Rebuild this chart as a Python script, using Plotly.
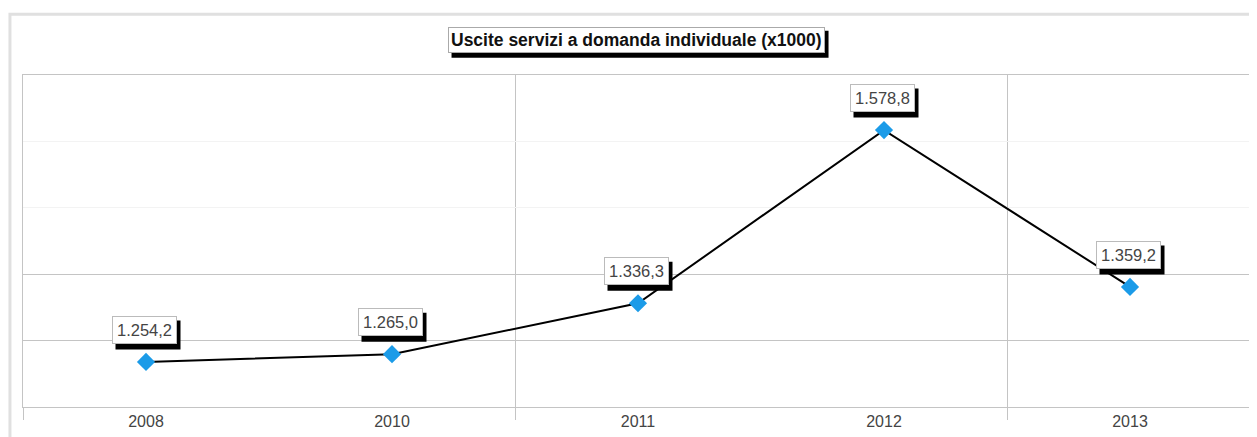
import plotly.graph_objects as go

years = ["2008", "2010", "2011", "2012", "2013"]
values = [1254.2, 1265.0, 1336.3, 1578.8, 1359.2]
title_text = "Uscite servizi a domanda individuale (x1000)"

y_min, y_max = 1191.0, 1656.0
n_div = 5
step = (y_max - y_min) / n_div
grid_vals = [y_min + step * k for k in range(1, n_div)]

def it_fmt(v):
    s = f"{v:,.1f}"
    return s.replace(",", "#").replace(".", ",").replace("#", ".")

xs = list(range(len(years)))
GRID = "#c4c4c4"
FONT = "Liberation Sans, Arial, sans-serif"

fig = go.Figure()
fig.add_trace(go.Scatter(
    x=xs, y=values, mode="lines+markers",
    line=dict(color="#000000", width=2),
    marker=dict(symbol="diamond", size=14, color="#1b9be8"),
    hoverinfo="skip", showlegend=False,
))

annotations = []
shapes = [dict(
    type="rect", xref="paper", yref="paper",
    x0=-0.0106, x1=1.02, y0=-0.3, y1=1.183,
    line=dict(color="#e0e0e0", width=3), layer="below",
)]

# title box + shadow
TX, TY = 0.4984, 1.105
tw, th = 377, 27
shapes.append(dict(
    type="rect", xref="paper", yref="paper", xsizemode="pixel", ysizemode="pixel",
    xanchor=TX, yanchor=TY,
    x0=-tw / 2 + 4, x1=tw / 2 + 4, y0=-th / 2 - 4, y1=th / 2 - 4,
    fillcolor="#000000", line=dict(width=0), layer="above",
))
annotations.append(dict(
    xref="paper", yref="paper", x=TX, y=TY, xanchor="center", yanchor="middle",
    text=title_text, showarrow=False,
    font=dict(family=FONT, size=17.5, color="#111111", weight="bold"),
    bgcolor="#ffffff", bordercolor="#aaaaaa", borderwidth=1, borderpad=2,
))

# data labels + shadows
lw, lh = 65, 29
LX, LY = -2, 32
for x, v in zip(xs, values):
    shapes.append(dict(
        type="rect", xref="x", yref="y", xsizemode="pixel", ysizemode="pixel",
        xanchor=x, yanchor=v,
        x0=LX - lw / 2 + 4, x1=LX + lw / 2 + 4,
        y0=LY - lh / 2 - 5, y1=LY + lh / 2 - 5,
        fillcolor="#000000", line=dict(width=0), layer="above",
    ))
    annotations.append(dict(
        x=x, y=v, xref="x", yref="y", text=it_fmt(v), showarrow=False,
        xshift=LX, yshift=LY,
        font=dict(family=FONT, size=16.5, color="#444444"),
        bgcolor="#ffffff", bordercolor="#bbbbbb", borderwidth=1, borderpad=4,
    ))

fig.update_layout(
    width=1249, height=429,
    margin=dict(l=15, r=4, t=67, b=30),
    paper_bgcolor="#ffffff", plot_bgcolor="#ffffff",
    annotations=annotations,
    shapes=shapes,
)
fig.update_xaxes(
    range=[-0.5, len(years) - 0.5],
    tickvals=xs, ticktext=years,
    showgrid=False, zeroline=False,
    ticks="outside", ticklen=0, tickcolor="rgba(0,0,0,0)",
    tickfont=dict(family=FONT, size=16, color="#444444"),
    showline=True, linecolor=GRID, linewidth=1, mirror=True,
    minor=dict(tickvals=[-0.5, 1.5, 3.5], ticks="outside", ticklen=12,
               tickcolor=GRID, showgrid=True, gridcolor=GRID, gridwidth=1),
)
fig.update_yaxes(
    range=[y_min, y_max],
    tickvals=grid_vals[:2], showticklabels=False,
    showgrid=True, gridcolor=GRID, gridwidth=1, zeroline=False,
    showline=True, linecolor=GRID, linewidth=1, mirror=True,
    minor=dict(tickvals=grid_vals[2:], showgrid=True, gridcolor="#f3f3f3"),
)

fig.write_html("out.html")
